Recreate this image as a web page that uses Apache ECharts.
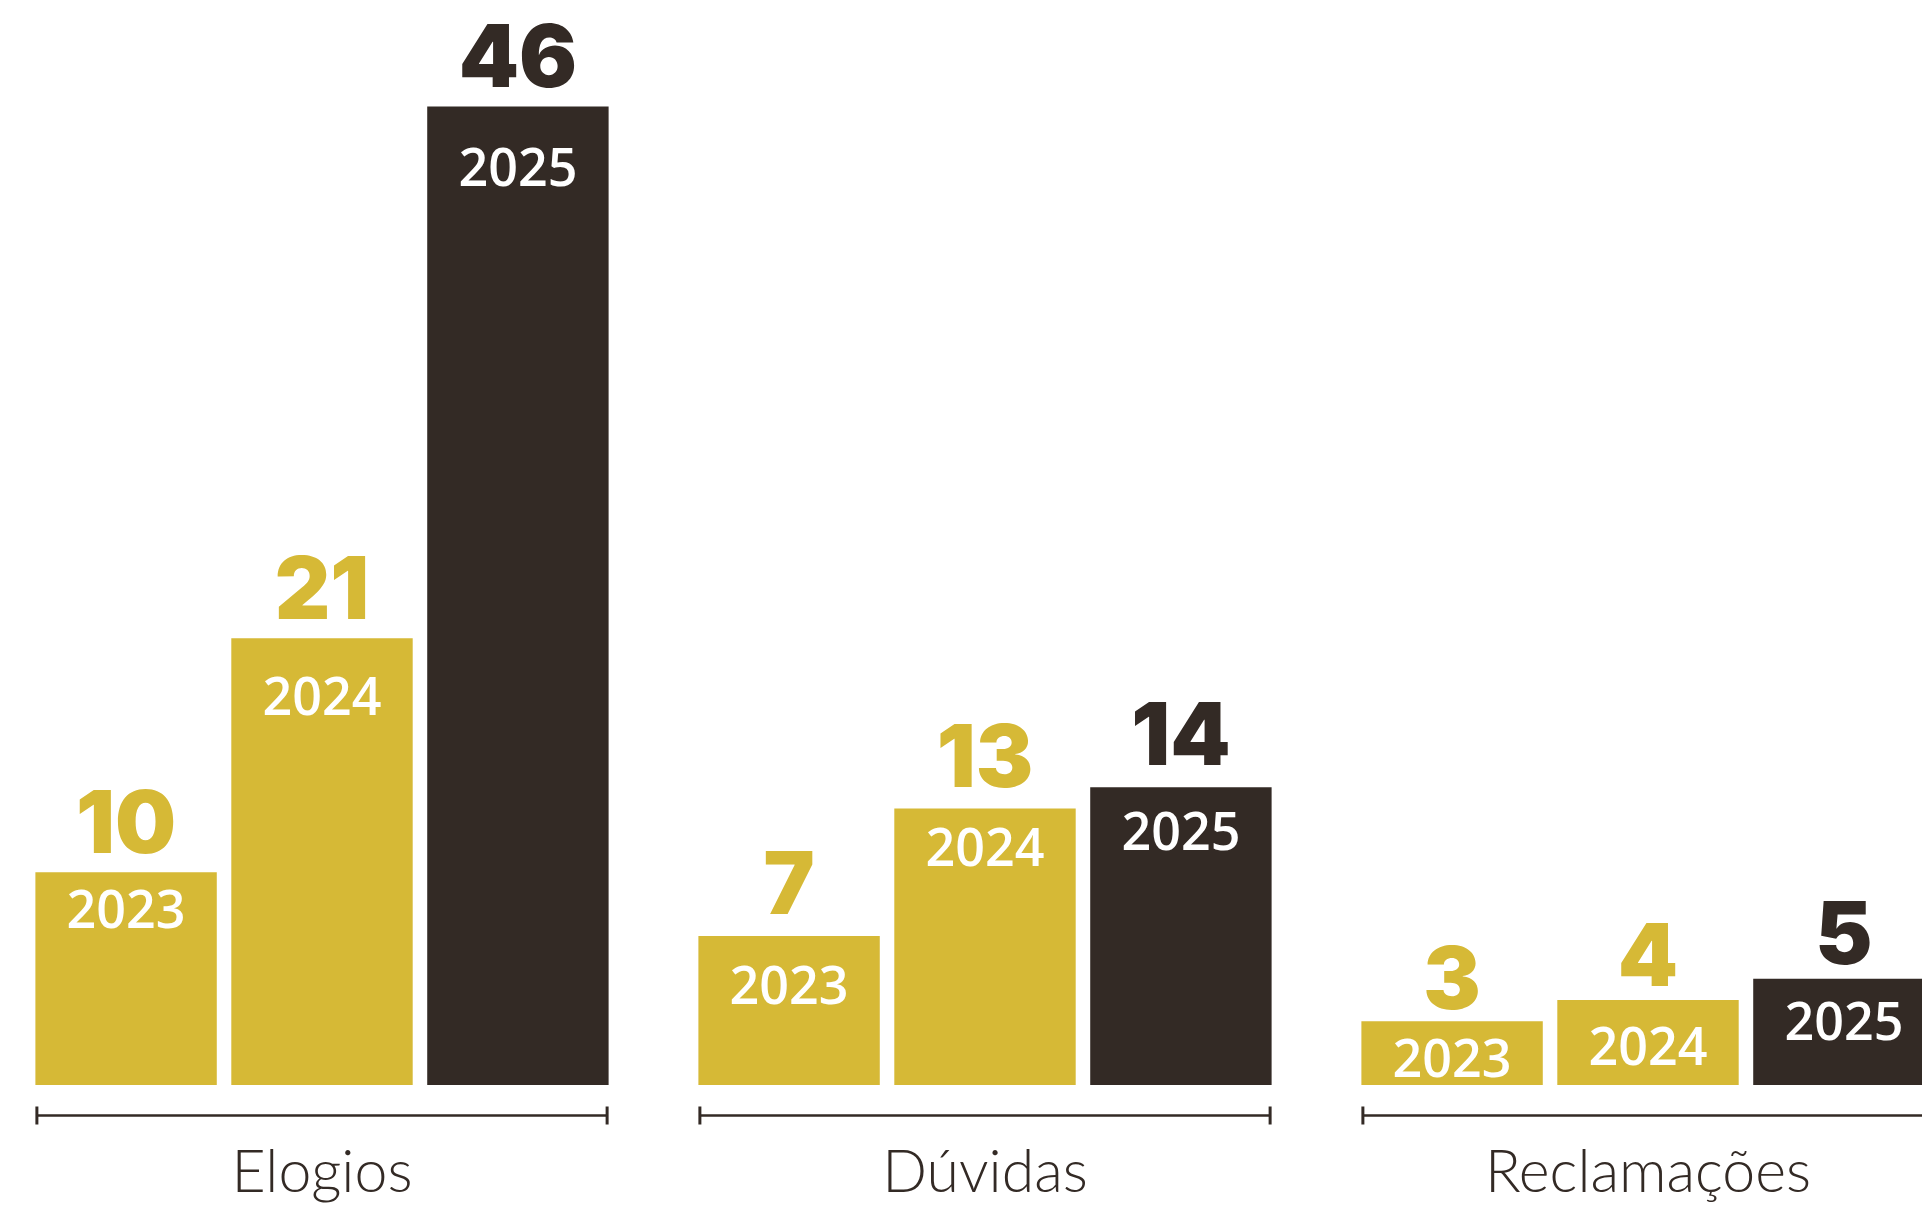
<!DOCTYPE html>
<html>
<head>
<meta charset="utf-8">
<script src="https://cdn.jsdelivr.net/npm/echarts@6/dist/echarts.min.js"></script>
<style>
  html, body { margin: 0; padding: 0; background: #ffffff; }
  #chart { width: 1922px; height: 1205px; }
</style>
</head>
<body>
<div id="chart"></div>
<script>
// Atendimentos por tipo, comparando 2023, 2024 e 2025
const categories = ['Elogios', 'Dúvidas', 'Reclamações'];
const years = ['2023', '2024', '2025'];
const values2023 = [10, 7, 3];
const values2024 = [21, 13, 4];
const values2025 = [46, 14, 5];

const GOLD = '#d6b936';
const DARK = '#332a25';
const BAR_W = 181.4;
const BAR_GAP = 0.08;

// Label placement per bar (px): space between the big number and the bar top,
// and depth of the year's centre below the bar top.
const VALUE_GAP = { '2023': [18, 21, 11], '2024': [18, 20, 13], '2025': [18, 21, 14] };
const YEAR_DROP = { '2023': [37, 49, 37], '2024': [58, 39, 46], '2025': [61, 44, 43] };
const VALUE_LINE = 100;
const GLYPH_RAISE = 4;      // digits sit slightly above the line middle
const VALUE_HALF = 31;      // half the height of the big digits

function labelFor(year, i, color) {
  const gap = VALUE_GAP[year][i];
  const drop = YEAR_DROP[year][i];
  const dy = -gap - VALUE_HALF + GLYPH_RAISE - VALUE_LINE / 2;
  const yearLine = 2 * (drop + GLYPH_RAISE - dy - VALUE_LINE);
  return {
    show: true,
    position: 'insideTop',
    distance: 0,
    offset: [0, dy],
    formatter: function (p) { return '{v|' + p.value + '}\n{y|' + year + '}'; },
    rich: {
      v: {
        fontFamily: 'Inter',
        fontWeight: 900,
        fontSize: 86,
        lineHeight: VALUE_LINE,
        color: color,
        align: 'center'
      },
      y: {
        fontFamily: 'Open Sans',
        fontWeight: 600,
        fontSize: 52,
        lineHeight: yearLine,
        color: '#ffffff',
        align: 'center'
      }
    }
  };
}

function barSeries(year, values, color) {
  return {
    name: year,
    type: 'bar',
    clip: false,
    barWidth: BAR_W,
    barGap: (BAR_GAP * 100) + '%',
    itemStyle: { color: color },
    data: values.map(function (v, i) {
      return { value: v, label: labelFor(year, i, color) };
    })
  };
}

const chart = echarts.init(document.getElementById('chart'), null, { renderer: 'canvas' });

chart.setOption({
  animation: false,
  backgroundColor: '#ffffff',
  grid: {
    left: -9.5,
    right: -57.5,
    top: 21.5,
    bottom: 120,
    containLabel: false,
    outerBoundsMode: 'none'
  },
  xAxis: {
    type: 'category',
    data: categories,
    axisLine: { show: false },
    axisTick: { show: false },
    splitLine: { show: false },
    axisLabel: {
      margin: 88,
      verticalAlign: 'middle',
      fontFamily: 'Lato',
      fontWeight: 300,
      fontSize: 59,
      color: DARK
    }
  },
  yAxis: {
    type: 'value',
    min: 0,
    max: 50,
    show: false,
    splitLine: { show: false }
  },
  series: [
    barSeries(years[0], values2023, GOLD),
    barSeries(years[1], values2024, GOLD),
    barSeries(years[2], values2025, DARK),
    {
      // bracket under each group of bars
      type: 'custom',
      silent: true,
      data: categories.map(function (c, i) { return [i, 0]; }),
      encode: { x: 0, y: 1 },
      renderItem: function (params, api) {
        const base = api.coord([api.value(0), 0]);
        const half = (3 * BAR_W + 2 * BAR_W * BAR_GAP) / 2;
        const y = base[1] + 30.5;
        const x0 = base[0] - half + 1.5;
        const x1 = base[0] + half - 1.5;
        return {
          type: 'group',
          children: [
            { type: 'line', shape: { x1: x0, y1: y, x2: x1, y2: y }, style: { stroke: DARK, lineWidth: 2.6 } },
            { type: 'line', shape: { x1: x0, y1: y - 9, x2: x0, y2: y + 9 }, style: { stroke: DARK, lineWidth: 3 } },
            { type: 'line', shape: { x1: x1, y1: y - 9, x2: x1, y2: y + 9 }, style: { stroke: DARK, lineWidth: 3 } }
          ]
        };
      }
    }
  ]
});
</script>
</body>
</html>
